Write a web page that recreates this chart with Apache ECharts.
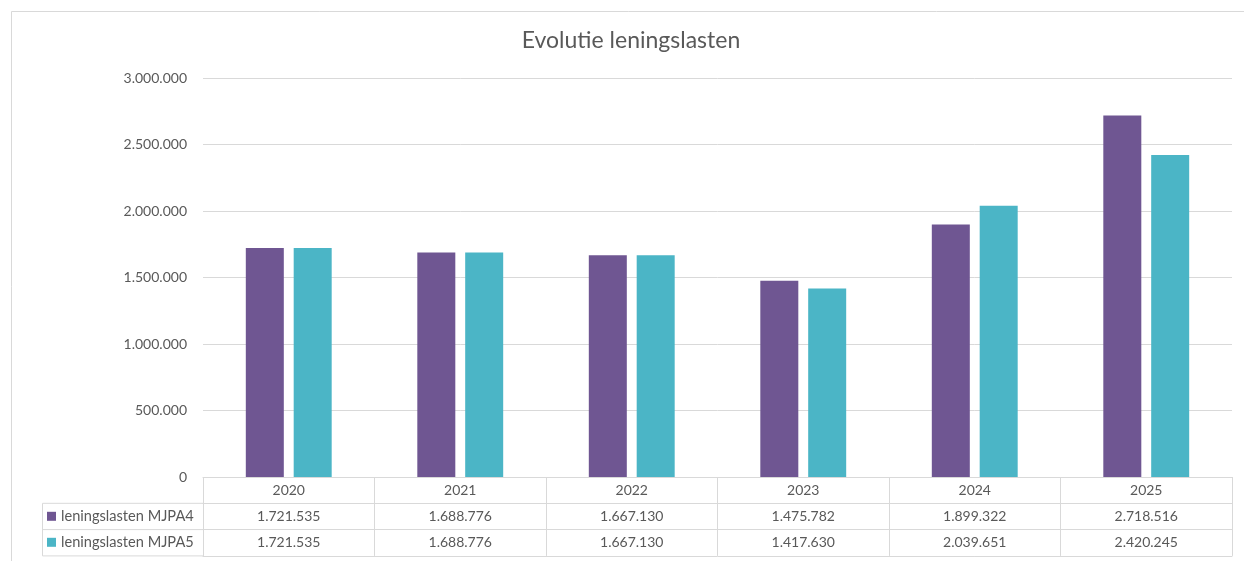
<!DOCTYPE html>
<html>
<head>
<meta charset="utf-8">
<script src="https://cdn.jsdelivr.net/npm/echarts@6/dist/echarts.min.js"></script>
<style>
html,body{margin:0;padding:0;background:#fff;}
#chart{width:1244px;height:561px;}
</style>
</head>
<body>
<div id="chart"></div>
<script>
const titleText = 'Evolutie leningslasten';
const years = ['2020', '2021', '2022', '2023', '2024', '2025'];
const seriesNames = ['leningslasten MJPA4', 'leningslasten MJPA5'];
const mjpa4 = [1721535, 1688776, 1667130, 1475782, 1899322, 2718516];
const mjpa5 = [1721535, 1688776, 1667130, 1417630, 2039651, 2420245];
const yMin = 0, yMax = 3000000, yStep = 500000;

const FONT = 'Lato';
const TXT = '#595959';
const LINE = '#D9D9D9';
const C1 = '#6F5692';
const C2 = '#4BB5C6';

function fmt(v) {
  return String(Math.round(v)).replace(/\B(?=(\d{3})+(?!\d))/g, '.');
}

const gridLeft = 203, gridRight = 12, gridTop = 78, gridBottom = 84;
const W = 1244, H = 561;
const axisY = H - gridBottom;      // 477
const rowH = 26.3;
const tableLeft = 42;

const chart = echarts.init(document.getElementById('chart'), null, {renderer: 'canvas'});

function tableAxis(idx, values, show) {
  return {
    type: 'category',
    data: years,
    position: 'bottom',
    offset: idx * rowH,
    gridIndex: 0,
    axisLine: {show: true, lineStyle: {color: LINE, width: 1}},
    axisTick: {show: false},
    axisLabel: {
      show: show,
      margin: 6,
      color: TXT,
      fontFamily: FONT,
      fontSize: 14,
      formatter: function (val, i) { return values ? fmt(values[i]) : val; }
    },
    splitLine: {show: false}
  };
}

const option = {
  animation: false,
  backgroundColor: '#fff',
  title: {
    text: titleText,
    left: 626,
    top: 24,
    textAlign: 'center',
    textStyle: {color: TXT, fontFamily: FONT, fontSize: 23, fontWeight: 'normal'}
  },
  legend: {
    orient: 'vertical',
    left: 47,
    top: axisY + rowH + 5,
    itemWidth: 9,
    itemHeight: 9,
    itemGap: 10,
    icon: 'rect',
    padding: 0,
    textStyle: {color: TXT, fontFamily: FONT, fontSize: 14.6, lineHeight: 16},
    data: seriesNames
  },
  grid: {left: gridLeft, right: gridRight, top: gridTop, bottom: gridBottom, containLabel: false},
  xAxis: [
    {
      type: 'category',
      data: years,
      position: 'bottom',
      axisLine: {show: true, lineStyle: {color: LINE, width: 1}},
      axisTick: {show: true, length: rowH * 3, inside: false, lineStyle: {color: LINE}},
      axisLabel: {margin: 6, color: TXT, fontFamily: FONT, fontSize: 14},
      splitLine: {show: false}
    },
    tableAxis(1, mjpa4, true),
    tableAxis(2, mjpa5, true),
    tableAxis(3, null, false)
  ],
  yAxis: {
    type: 'value',
    min: yMin,
    max: yMax,
    interval: yStep,
    axisLine: {show: false},
    axisTick: {show: false},
    axisLabel: {margin: 16, color: TXT, fontFamily: FONT, fontSize: 14, formatter: v => fmt(v)},
    splitLine: {lineStyle: {color: LINE, width: 1}}
  },
  series: [
    {name: seriesNames[0], type: 'bar', data: mjpa4, barWidth: 38, barGap: '26%', itemStyle: {color: C1}},
    {name: seriesNames[1], type: 'bar', data: mjpa5, barWidth: 38, barGap: '26%', itemStyle: {color: C2}}
  ],
  graphic: [
    {type: 'rect', silent: true, shape: {x: 11.5, y: 11.5, width: W + 20, height: H + 20},
     style: {fill: 'none', stroke: LINE, lineWidth: 1}},
    {type: 'rect', silent: true, shape: {x: tableLeft + 0.5, y: axisY + rowH, width: gridLeft - tableLeft, height: rowH * 2},
     style: {fill: 'none', stroke: LINE, lineWidth: 1}},
    {type: 'line', silent: true, shape: {x1: tableLeft, y1: axisY + rowH * 2, x2: gridLeft, y2: axisY + rowH * 2},
     style: {stroke: LINE, lineWidth: 1}}
  ]
};
chart.setOption(option);
</script>
</body>
</html>
